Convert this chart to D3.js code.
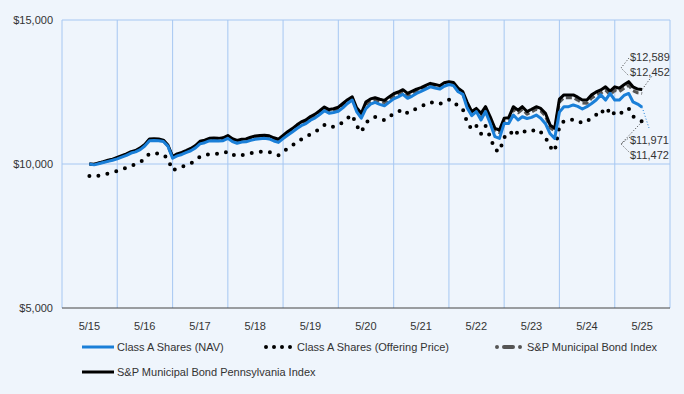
<!DOCTYPE html>
<html>
<head>
<meta charset="utf-8">
<script src="https://cdn.jsdelivr.net/npm/d3@7"></script>
<style>
  body { margin: 0; background: #eff5fc; }
  svg { display: block; font-family: "Liberation Sans", Arial, sans-serif; }
</style>
</head>
<body>
<svg id="canvas" width="684" height="394"></svg>
<script>
// monthly values, 5/15 .. 5/25
let navValues = [10000,9970,10010,10050,10090,10130,10180,10240,10300,10380,10420,10500,
  10625,10810,10820,10810,10780,10620,10200,10280,10330,10400,10460,10560,
  10700,10740,10800,10810,10800,10810,10890,10780,10720,10760,10770,10820,
  10860,10880,10890,10870,10800,10750,10880,11000,11110,11230,11330,11400,
  11520,11600,11720,11850,11760,11790,11830,11950,12100,12220,11820,11590,
  11920,12080,12140,12070,12020,12140,12260,12330,12420,12280,12350,12450,
  12520,12600,12680,12640,12600,12700,12760,12720,12510,12420,11950,11680,
  11820,11530,11820,11410,10950,10890,11410,11410,11700,11530,11640,11580,
  11620,11700,11590,11400,11050,10890,11800,11990,11990,12050,12000,11910,
  11990,12100,12220,12400,12220,12450,12220,12220,12380,12450,12160,12080,
  11971]

let offerValues = [9583,9554,9592,9631,9669,9708,9755,9813,9871,9947,9985,10062,
  10182,10359,10369,10359,10330,10177,9775,9851,9899,9966,10024,10120,
  10254,10292,10350,10359,10350,10359,10436,10330,10273,10311,10321,10369,
  10407,10426,10436,10417,10350,10302,10426,10541,10647,10762,10857,10925,
  11039,11116,11231,11356,11270,11298,11337,11452,11595,11710,11327,11107,
  11423,11576,11634,11567,11519,11634,11749,11816,11902,11768,11835,11931,
  11998,12075,12151,12113,12075,12170,12228,12190,11988,11902,11452,11193,
  11327,11049,11327,10934,10494,10436,10934,10934,11212,11049,11155,11097,
  11136,11212,11107,10925,10589,10436,11308,11490,11490,11548,11500,11413,
  11490,11596,11710,11883,11710,11931,11710,11710,11864,11931,11653,11576,
  11472]

let muniValues = [10000,9985,10030,10070,10115,10155,10210,10270,10330,10405,10445,10535,
  10650,10840,10850,10840,10800,10630,10230,10320,10370,10440,10510,10610,
  10760,10800,10860,10870,10860,10880,10960,10850,10790,10830,10840,10900,
  10940,10960,10970,10950,10880,10830,10960,11090,11200,11320,11420,11490,
  11600,11680,11800,11930,11840,11870,11910,12040,12170,12280,11880,11690,
  12070,12180,12220,12170,12130,12250,12360,12420,12500,12370,12440,12520,
  12570,12650,12720,12680,12640,12740,12780,12740,12540,12420,12060,11730,
  11840,11670,11900,11550,11150,11090,11500,11520,11900,11780,11900,11730,
  11810,11900,11840,11670,11260,11150,12150,12300,12300,12300,12220,12120,
  12110,12290,12390,12460,12560,12410,12560,12510,12630,12730,12550,12470,
  12452]

let paValues = [10000,9990,10040,10080,10130,10170,10230,10290,10350,10430,10470,10560,
  10680,10870,10880,10870,10830,10660,10260,10350,10400,10470,10540,10640,
  10790,10830,10890,10900,10890,10910,10990,10880,10820,10860,10870,10930,
  10970,10990,11000,10980,10910,10860,10990,11120,11230,11360,11460,11530,
  11650,11730,11850,11980,11890,11920,11970,12100,12230,12330,11950,11760,
  12150,12260,12300,12250,12210,12330,12440,12500,12580,12450,12520,12600,
  12650,12730,12800,12760,12720,12820,12860,12830,12630,12510,12150,11820,
  11930,11760,11990,11640,11240,11180,11590,11610,11990,11870,11990,11820,
  11900,11990,11930,11760,11350,11240,12250,12400,12400,12400,12320,12220,
  12220,12400,12500,12570,12680,12530,12680,12630,12750,12860,12680,12600,
  12589]

let yearLabels = ['5/15','5/16','5/17','5/18','5/19','5/20','5/21','5/22','5/23','5/24','5/25']
let yTicks = [5000, 10000, 15000]
let endLabels = ['$12,589','$12,452','$11,971','$11,472']

let svg = d3.select('#canvas')
let plotL = 62, plotR = 670, plotT = 20, plotB = 308

let dates = navValues.map((d, i) => new Date(2015, 4 + i, 1))

let x = d3.scaleTime()
  .domain([new Date(2014, 10, 1), new Date(2025, 10, 1)])
  .range([plotL, plotR])
let y = d3.scaleLinear().domain([5000, 15000]).range([plotB, plotT])

svg.append('rect').attr('width', 684).attr('height', 394).attr('fill', '#eff5fc')

// grid
let gridColor = '#a6c7f2'
let novs = d3.range(2014, 2026).map(yr => new Date(yr, 10, 1))
svg.append('g').selectAll('line').data(novs).enter().append('line')
  .attr('x1', d => x(d)).attr('x2', d => x(d))
  .attr('y1', plotT).attr('y2', plotB)
  .attr('stroke', gridColor).attr('stroke-width', 1)
svg.append('g').selectAll('line').data([10000, 15000]).enter().append('line')
  .attr('x1', plotL).attr('x2', plotR)
  .attr('y1', d => y(d)).attr('y2', d => y(d))
  .attr('stroke', gridColor).attr('stroke-width', 1)
svg.append('line')
  .attr('x1', plotL).attr('x2', plotR).attr('y1', plotB).attr('y2', plotB)
  .attr('stroke', '#444').attr('stroke-width', 1)

// axis labels
svg.append('g').selectAll('text').data(yTicks).enter().append('text')
  .attr('x', 53).attr('y', d => y(d) + 4)
  .attr('text-anchor', 'end').attr('font-size', 11).attr('fill', '#333')
  .text(d => '$' + d3.format(',')(d))
svg.append('g').selectAll('text').data(yearLabels).enter().append('text')
  .attr('x', (d, i) => x(new Date(2015 + i, 4, 1)))
  .attr('y', 330)
  .attr('text-anchor', 'middle').attr('font-size', 11).attr('fill', '#333')
  .text(d => d)

let line = d3.line().x((d, i) => x(dates[i])).y(d => y(d))

let series = [
  { vals: muniValues, color: '#555', width: 3, dash: '6,3', cap: 'butt' },
  { vals: paValues, color: '#000', width: 3, dash: null, cap: 'butt' },
  { vals: offerValues, color: '#000', width: 4, dash: '0,9.2', cap: 'round' },
  { vals: navValues, color: '#1a7fd8', width: 3, dash: null, cap: 'butt' }
]
series.forEach(s => {
  svg.append('path')
    .attr('d', line(s.vals))
    .attr('fill', 'none')
    .attr('stroke', s.color)
    .attr('stroke-width', s.width)
    .attr('stroke-dasharray', s.dash)
    .attr('stroke-linecap', s.cap)
    .attr('stroke-linejoin', 'round')
})

// end value labels with leader lines
let ex = x(dates[dates.length - 1])
let last = arr => y(arr[arr.length - 1])
let leaders = [
  [[629, 58], [621, 68], [629, 76]],
  [[ex, last(paValues)], [652, 76]],
  [[ex, last(navValues)], [649, 128]],
  [[ex, last(offerValues)], [621, 144]],
  [[630, 137], [621, 144], [630, 153]]
]
leaders.forEach((pts, i) => {
  svg.append('path')
    .attr('d', d3.line()(pts))
    .attr('fill', 'none')
    .attr('stroke', i == 2 ? '#1a7fd8' : '#333')
    .attr('stroke-width', 1)
    .attr('stroke-dasharray', '1,2')
})
let labelY = [61, 76, 144, 159]
svg.append('g').selectAll('text').data(endLabels).enter().append('text')
  .attr('x', 630).attr('y', (d, i) => labelY[i])
  .attr('font-size', 11).attr('fill', '#333')
  .text(d => d)

// legend
let legend = [
  { label: 'Class A Shares (NAV)', x: 82, y: 347, color: '#1a7fd8', width: 3, dash: null, cap: 'butt', len: 32 },
  { label: 'Class A Shares (Offering Price)', x: 266, y: 347, color: '#000', width: 4, dash: '0,8', cap: 'round', len: 26 },
  { label: 'S&P Municipal Bond Index', x: 497, y: 347, color: '#555', width: 4, dash: '0,7,9,7', cap: 'round', len: 25 },
  { label: 'S&P Municipal Bond Pennsylvania Index', x: 82, y: 372, color: '#000', width: 3, dash: null, cap: 'butt', len: 32 }
]
legend.forEach(l => {
  svg.append('line')
    .attr('x1', l.x).attr('x2', l.x + l.len)
    .attr('y1', l.y).attr('y2', l.y)
    .attr('stroke', l.color).attr('stroke-width', l.width)
    .attr('stroke-dasharray', l.dash).attr('stroke-linecap', l.cap)
  svg.append('text')
    .attr('x', l.x + l.len + (l.cap == 'round' ? 5 : 3)).attr('y', l.y + 4)
    .attr('font-size', 11).attr('fill', '#333')
    .text(l.label)
})
</script>
</body>
</html>
